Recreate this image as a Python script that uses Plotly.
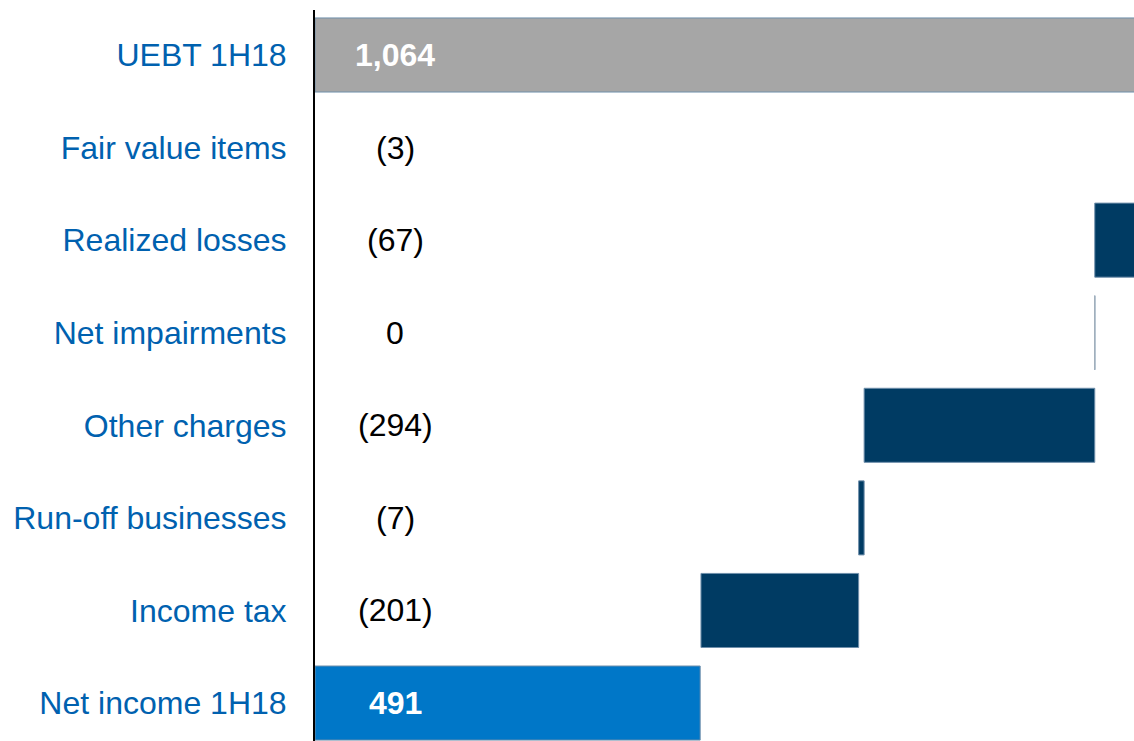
import plotly.graph_objects as go

categories = ["UEBT 1H18", "Fair value items", "Realized losses", "Net impairments",
              "Other charges", "Run-off businesses", "Income tax", "Net income 1H18"]
start_value = 1064
changes = [-3, -67, 0, -294, -7, -201]
end_value = 491

GRAY = "#A6A6A6"
NAVY = "#003B63"
BLUE = "#0077C8"
LABEL_BLUE = "#0061AF"

# build bar lengths and bases for the waterfall
bases, lengths, colors = [0], [start_value], [GRAY]
running = start_value
for c in changes:
    new = running + c
    bases.append(min(running, new))
    lengths.append(abs(c))
    colors.append(NAVY)
    running = new
bases.append(0)
lengths.append(end_value)
colors.append(BLUE)

values = [start_value] + changes + [end_value]


def fmt(v):
    if v < 0:
        return "({:,})".format(-v)
    return "{:,}".format(v)


fig = go.Figure()
fig.add_trace(go.Bar(
    y=categories, x=lengths, base=bases, orientation="h",
    marker=dict(color=colors, line=dict(color="#6f8fab", width=1)),
    width=0.8, hoverinfo="skip", cliponaxis=True,
))

# zero change drawn as a thin line
running = start_value
for i, c in enumerate(changes):
    if c == 0:
        fig.add_shape(type="line", xref="x", yref="y",
                      x0=running, x1=running, y0=i + 1 - 0.4, y1=i + 1 + 0.4,
                      line=dict(color="#b0b8c0", width=1))
    running += c

for i, (cat, v) in enumerate(zip(categories, values)):
    total = i == 0 or i == len(categories) - 1
    fig.add_annotation(
        x=102, y=cat, xref="x", yref="y", text=fmt(v), showarrow=False,
        font=dict(size=32, color="white" if total else "black",
                  family="Liberation Sans, Arial, sans-serif",
                  weight="bold" if total else "normal"),
    )

fig.update_layout(
    width=1134, height=741,
    margin=dict(l=315, r=0, t=10, b=0),
    plot_bgcolor="white", paper_bgcolor="white",
    showlegend=False,
    font=dict(family="Liberation Sans, Arial, sans-serif"),
)
fig.update_xaxes(range=[0, 1044], visible=False, showgrid=False, zeroline=False)
fig.update_yaxes(
    categoryorder="array", categoryarray=categories,
    range=[7.41, -0.486], showline=True, linecolor="black", linewidth=2,
    showgrid=False, zeroline=False, ticks="", ticklabelstandoff=20,
    tickfont=dict(size=32, color=LABEL_BLUE, family="Liberation Sans, Arial, sans-serif"),
)

# drop the default page margin so the figure fills the window exactly
fig.write_html("out.html",
               config={"displayModeBar": False},
               post_script="document.body.style.margin='0';"
                           "document.body.style.overflow='hidden';")
